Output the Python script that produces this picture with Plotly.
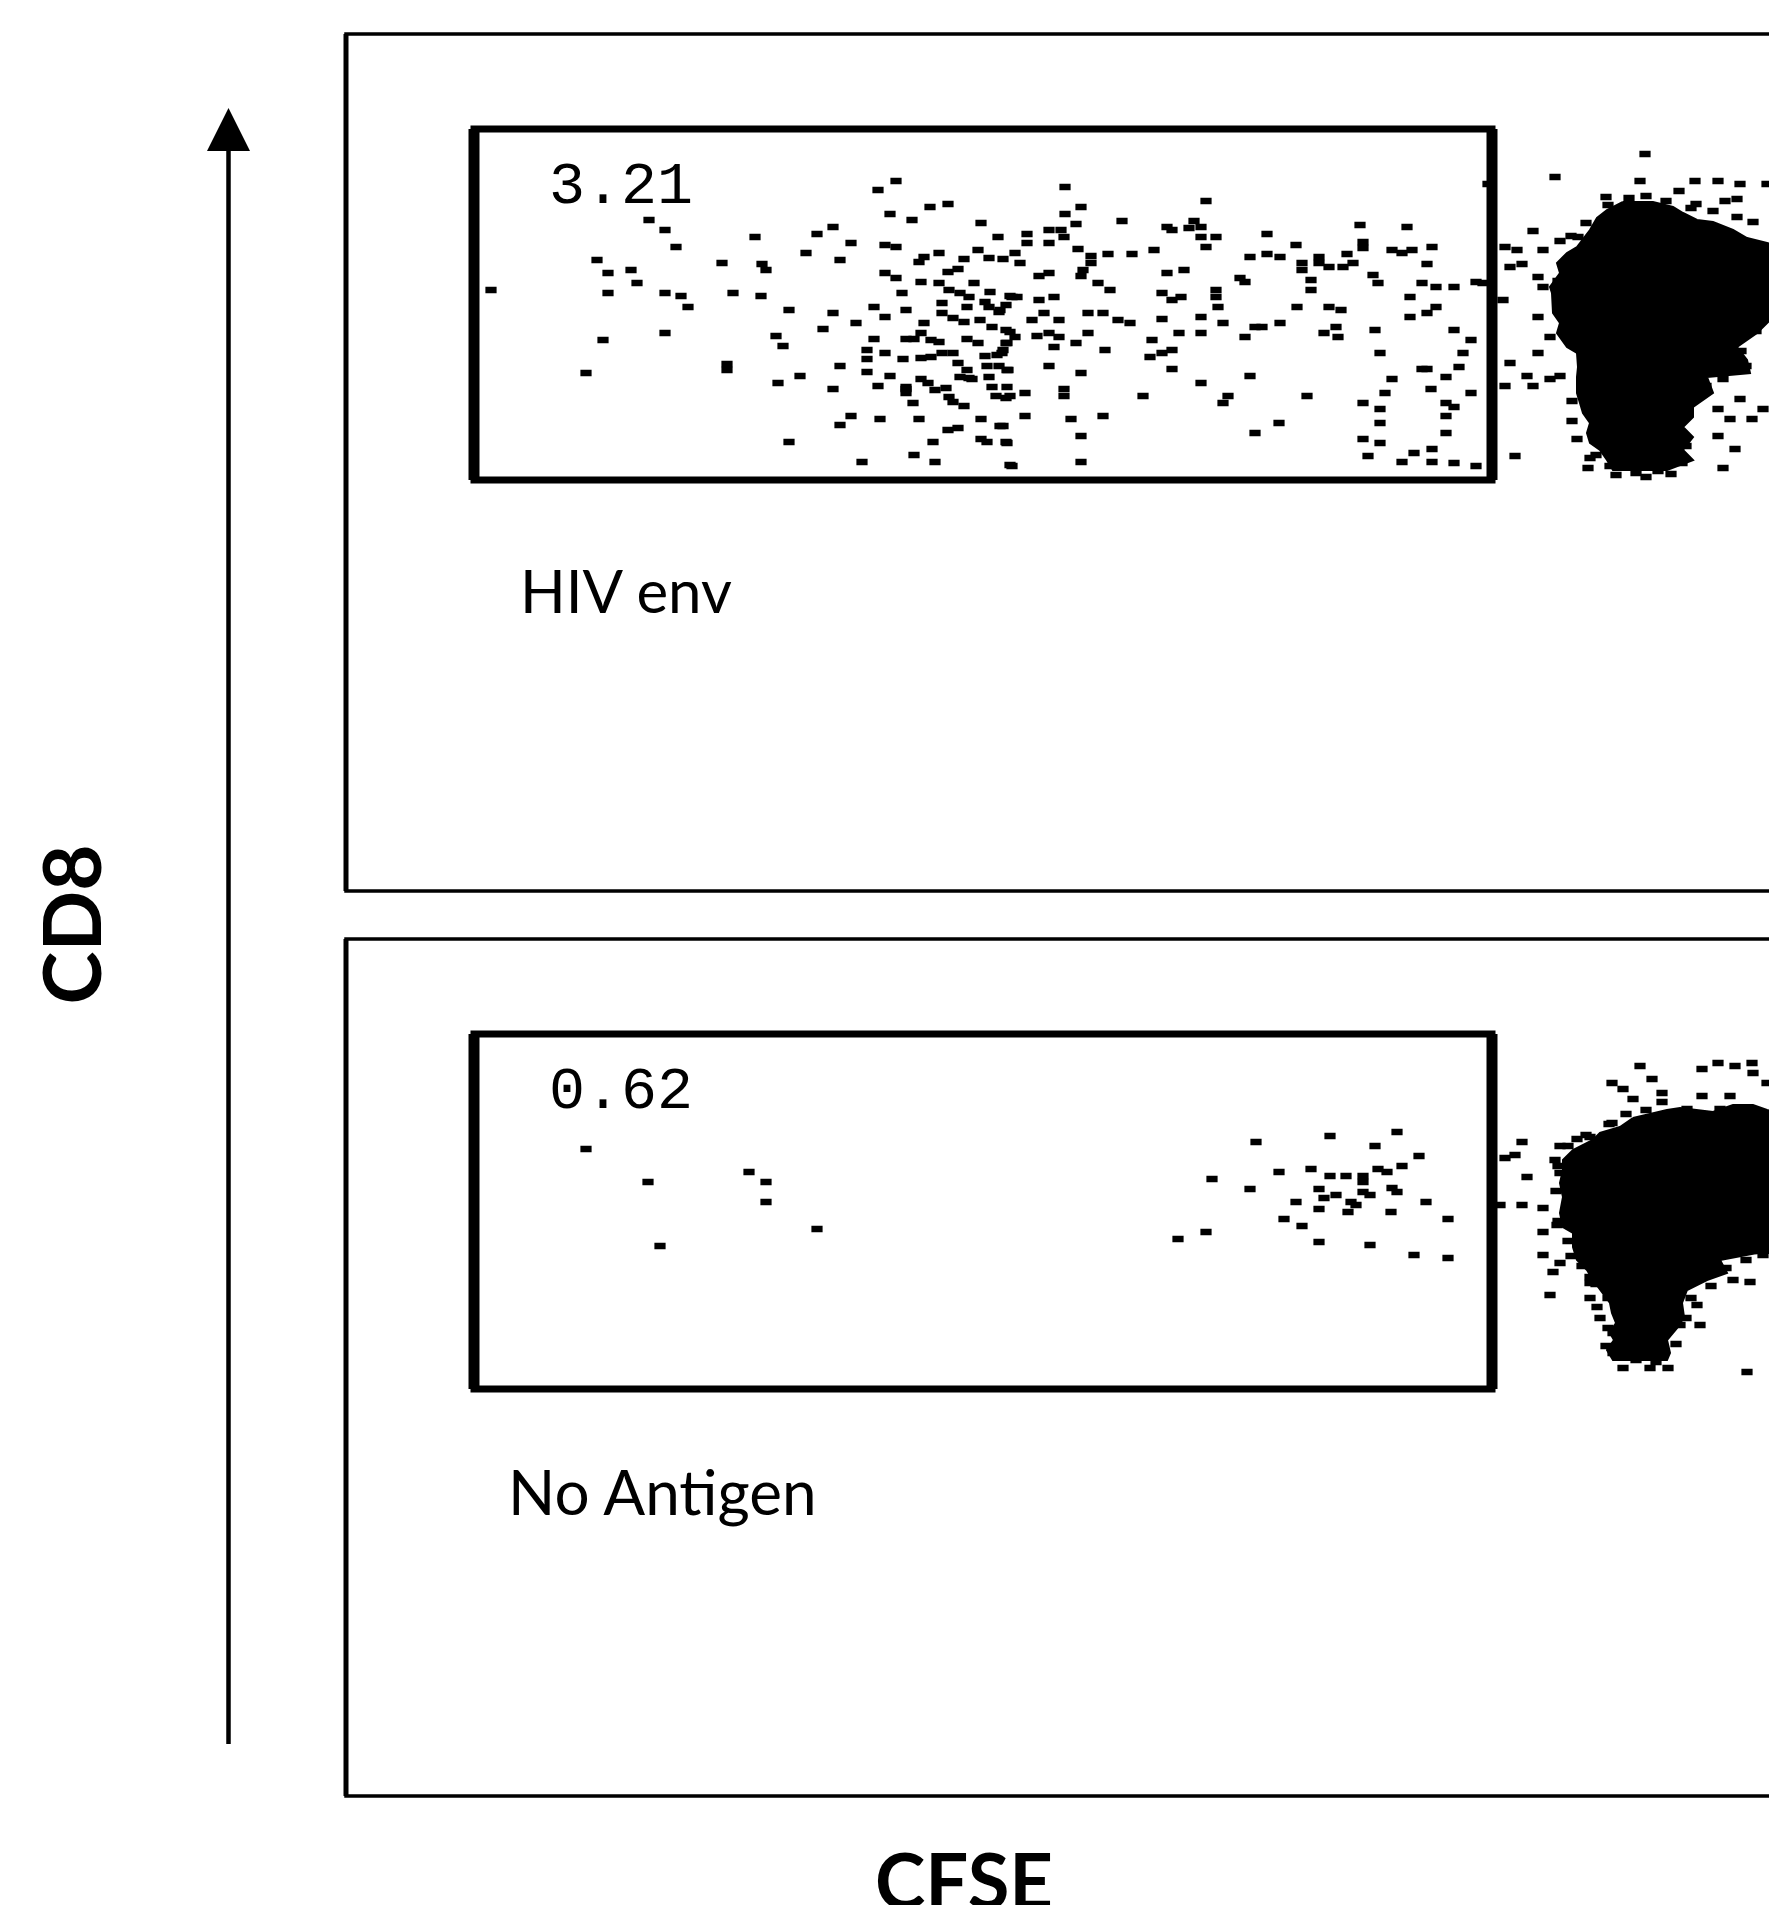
import plotly.graph_objects as go

W, H = 1769, 1905

# ---------------- data (arbitrary channel units; x = CFSE, y = CD8) ----------------
# Panel 1: HIV env
p1_x = [145, 251, 262, 285, 291, 262, 303, 319, 330, 319, 335, 342, 257, 319, 240, 376, 409, 416, 420, 387,
        415, 443, 430, 437, 381, 381, 432, 454, 443, 460, 471, 487, 505, 494, 487, 477, 510, 494, 487, 505,
        494, 516, 532, 550, 544, 566, 584, 602, 539, 550, 539, 550, 556, 528, 539, 560, 521, 521, 539, 528,
        521, 544, 532, 560, 534, 573, 567, 568, 589, 587, 602, 612, 635, 657, 635, 641, 660, 664, 635, 652,
        632, 643, 657, 618, 578, 593, 573, 602, 612, 575, 593, 603, 628, 614, 623, 644, 639, 664, 671, 596,
        596, 607, 618, 621, 643, 653, 660, 634, 646, 578, 575, 585, 593, 560, 568, 621, 632, 660, 660, 557,
        575, 585, 596, 607, 612, 621, 614, 626, 639, 651, 657, 641, 653, 643, 662, 575, 582, 589, 600, 560,
        560, 603, 607, 618, 646, 650, 660, 623,
        681, 681, 703, 703, 715, 718, 719, 735, 719, 730, 776, 821, 826, 843, 848, 855, 860, 855, 870, 860,
        921, 669, 674, 732, 745, 762, 745, 737, 786, 808, 693, 703, 735, 752, 764, 821, 838, 870, 870, 894,
        899, 904, 921, 934, 950, 956, 956, 973, 973, 983, 997, 1007, 1001, 1014, 1017, 1017, 965, 965, 1027, 1032,
        1046, 1056, 1066, 1086, 1061, 1081, 1076, 1090, 1108, 1130, 1137, 1142, 666, 693, 708, 654, 686, 698, 713, 742,
        757, 772, 784, 816, 826, 835, 816, 855, 872, 877, 909, 916, 934, 899, 951, 983, 995, 978, 992, 990,
        1029, 1064, 1064, 1081, 1090, 1108, 1125, 1117, 1113, 1076, 1081, 1046, 1100, 1085, 1125, 1034, 1039, 1017, 1034, 1034,
        1017, 1034, 1022, 1056, 1068, 1086, 1086, 1108, 1130, 1100, 1108, 1100, 1100, 664, 669, 661, 656, 691, 703, 713,
        708, 730, 742, 759, 806, 804, 816, 826, 833, 855, 661, 703, 735, 826, 855, 904, 661, 664, 679, 718,
        718, 797, 882, 877, 961, 654, 679, 725, 757, 661, 735, 909, 933, 666, 735,
        1209, 1294, 1349, 1372, 1394, 1421, 1333, 1260, 1350, 1379, 1391, 1367, 1391, 1407, 1187, 1232, 1214, 1159, 1171, 1197,
        1164, 1176, 1192, 1197, 1157, 1192, 1204, 1192, 1164, 1181, 1204, 1214, 1159, 1187, 1377, 1394, 1372, 1384, 1406, 1417,
        1372, 1389, 1377, 1169, 1242, 1244, 1299,
        1283, 1300, 1320, 1345, 1262, 1240, 1225, 1264, 1290, 1312, 1336, 1250, 1340, 1231, 1226, 1226, 1350, 1360,
        1395, 1400, 1410, 1218, 1212, 1222, 1356, 1270, 1300, 1325]
p1_y = [601, 631, 618, 621, 608, 598, 671, 661, 644, 598, 595, 584, 551, 558, 518, 628, 654, 627, 621, 598,
        595, 581, 555, 545, 527, 521, 508, 515, 449, 638, 657, 664, 648, 631, 578, 562, 568, 525, 502, 475,
        466, 429, 701, 710, 677, 671, 684, 687, 646, 644, 618, 613, 598, 584, 574, 581, 541, 532, 538, 552,
        519, 515, 505, 502, 472, 472, 488, 436, 429, 449, 461, 463, 472, 465, 452, 449, 449, 426, 668, 654,
        641, 633, 632, 632, 634, 638, 629, 619, 622, 609, 608, 601, 608, 598, 594, 599, 589, 595, 594, 588,
        578, 573, 569, 584, 584, 579, 586, 571, 564, 568, 558, 551, 549, 552, 552, 552, 548, 561, 548, 532,
        533, 534, 538, 538, 528, 521, 514, 512, 535, 536, 541, 525, 525, 514, 521, 512, 508, 501, 503, 504,
        498, 494, 489, 485, 504, 495, 493, 513,
        657, 648, 648, 661, 661, 654, 704, 684, 677, 667, 670, 664, 661, 663, 670, 664, 690, 654, 654, 644,
        657, 638, 628, 642, 635, 637, 628, 621, 637, 641, 615, 618, 615, 608, 601, 618, 621, 601, 594, 613,
        609, 634, 637, 634, 646, 628, 621, 634, 628, 624, 624, 628, 637, 666, 649, 643, 611, 601, 616, 608,
        641, 638, 641, 644, 664, 627, 608, 604, 604, 609, 608, 707, 594, 591, 594, 581, 571, 578, 571, 578,
        578, 571, 568, 598, 591, 594, 572, 574, 584, 568, 564, 564, 568, 554, 584, 584, 581, 558, 554, 564,
        561, 594, 574, 578, 584, 561, 551, 538, 524, 522, 522, 512, 514, 502, 498, 538, 498, 488, 482, 468,
        452, 448, 435, 429, 438, 442, 429, 428, 425, 488, 484, 475, 458, 559, 554, 548, 538, 555, 558, 554,
        544, 548, 558, 541, 551, 534, 538, 541, 558, 558, 521, 525, 518, 522, 508, 515, 504, 495, 498, 502,
        495, 495, 495, 488, 495, 465, 475, 472, 475, 448, 455, 458, 468, 425, 429,
        714, 710, 710, 710, 707, 707, 700, 694, 687, 690, 692, 680, 674, 669, 660, 654, 650, 644, 641, 641,
        624, 627, 614, 604, 591, 574, 554, 538, 528, 515, 512, 515, 505, 505, 512, 492, 482, 472, 472, 482,
        455, 442, 423, 435, 423, 433, 737,
        693, 695, 690, 683, 686, 668, 655, 425, 418, 420, 428, 436, 445, 452, 470, 490, 500, 505,
        540, 525, 560, 590, 610, 575, 520, 416, 414, 417]

# dense population of panel 1 (outline of the solid cloud)
b1_x = [1277, 1307, 1327, 1337, 1351, 1367, 1387, 1401, 1421, 1444, 1444, 1411, 1391, 1401, 1404, 1361, 1367, 1347, 1347, 1337,
        1347, 1337, 1347, 1321, 1277, 1267, 1261, 1254, 1244, 1241, 1244, 1237, 1234, 1231, 1231, 1232, 1231, 1221, 1211, 1214,
        1207, 1206, 1204, 1214, 1211, 1221, 1231, 1244, 1251, 1261]
b1_y = [689, 689, 684, 678, 671, 669, 661, 653, 648, 641, 591, 558, 544, 531, 518, 514, 498, 484, 474, 464,
        454, 441, 431, 421, 421, 421, 431, 441, 448, 458, 468, 478, 488, 498, 514, 524, 538, 544, 558, 568,
        578, 598, 604, 618, 628, 638, 644, 661, 673, 681]

# Panel 2: No Antigen
p2_x = [240, 302, 403, 420, 420, 471, 314,
        910, 984, 1051, 1029, 1073, 1056, 1032, 1041, 1017, 1017, 1000, 984, 965, 933, 866, 904, 973, 990,
        978, 1017, 1024, 1046, 1051, 1005, 1010, 1080, 950, 973, 1002, 1045, 938, 956, 1102, 860, 832, 973, 1024, 1068,
        1102,
        1294, 1306, 1266, 1277, 1287, 1316, 1316, 1356, 1372, 1389, 1406, 1407, 1421, 1356, 1384, 1341, 1374, 1266, 1231, 1244,
        1176, 1214, 1159, 1169, 1209, 1181, 1214, 1154, 1176, 1197, 1197, 1211, 1197, 1214, 1207, 1204, 1244, 1244, 1244, 1251,
        1254, 1267, 1351, 1354, 1334, 1387, 1404, 1417, 1277, 1304, 1322, 1401, 1267, 1274, 1314, 1294,
        1280, 1300, 1263, 1240, 1222, 1212, 1210, 1212, 1222, 1225, 1236, 1250, 1262, 1262, 1260, 1330, 1340, 1345,
        1365, 1380, 1400, 1415, 1290, 1310]
p2_y = [647, 614, 624, 614, 594, 567, 550,
        654, 660, 664, 650, 640, 630, 627, 624, 620, 614, 620, 620, 627, 624, 617, 607, 607, 601,
        598, 604, 601, 608, 604, 594, 591, 594, 594, 587, 584, 584, 577, 570, 577, 564, 557, 554, 551, 541,
        538,
        730, 717, 713, 707, 697, 703, 694, 727, 733, 730, 733, 723, 713, 700, 700, 687, 687, 673, 657, 659,
        654, 650, 638, 641, 636, 619, 623, 591, 591, 588, 564, 571, 541, 533, 524, 501, 513, 519, 498, 489,
        478, 463, 491, 471, 471, 516, 514, 541, 428, 428, 428, 424, 443, 441, 446, 451,
        682, 686, 672, 661, 650, 630, 605, 575, 555, 540, 530, 512, 498, 468, 450, 452, 478, 498,
        510, 528, 536, 545, 436, 434]

# dense population of panel 2
b2_x = [1287, 1301, 1321, 1334, 1367, 1387, 1407, 1421, 1444, 1444, 1411, 1374, 1381, 1361, 1341, 1336, 1338, 1332, 1321, 1324,
        1321, 1267, 1261, 1268, 1264, 1270, 1266, 1264, 1257, 1247, 1241, 1231, 1227, 1227, 1217, 1214, 1217, 1214, 1217, 1217,
        1227, 1247, 1254, 1274]
b2_y = [678, 681, 686, 688, 684, 691, 691, 686, 681, 543, 543, 536, 523, 516, 506, 493, 479, 469, 456, 443,
        436, 436, 446, 456, 463, 473, 483, 493, 503, 516, 526, 536, 549, 563, 569, 583, 599, 613, 626, 636,
        646, 656, 663, 669]

# gates (CFSE-low, CD8+) and their percentages
gate_x = [128, 1146]
gate1_y = [411, 762]
gate2_y = [407, 762]
gate_pct = ["3.21", "0.62"]
panel_names = ["HIV env", "No Antigen"]

# ---------------- figure ----------------
fig = go.Figure()

def px(x):
    return x / W

def py(y):
    return 1 - y / H

x_dom = [px(346), 1.0]
y_dom1 = [py(891), py(34)]
y_dom2 = [py(1796), py(939)]
XR = [0, 1423]
YR = [0, 857]

dash_marker = dict(symbol="line-ew", size=8, color="black", line=dict(color="black", width=6.5))

for k, (bx, by, ptx, pty) in enumerate([(b1_x, b1_y, p1_x, p1_y), (b2_x, b2_y, p2_x, p2_y)]):
    xa = "x" if k == 0 else "x2"
    ya = "y" if k == 0 else "y2"
    fig.add_trace(go.Scatter(x=bx + [bx[0]], y=by + [by[0]], mode="lines", fill="toself",
                             fillcolor="black", line=dict(color="black", width=2),
                             xaxis=xa, yaxis=ya, hoverinfo="skip"))
    fig.add_trace(go.Scatter(x=ptx, y=pty, mode="markers", marker=dash_marker,
                             xaxis=xa, yaxis=ya, hoverinfo="skip"))

ax_common = dict(visible=False, showgrid=False, zeroline=False, fixedrange=True)
fig.update_layout(
    width=W, height=H,
    margin=dict(l=0, r=0, t=0, b=0),
    paper_bgcolor="white", plot_bgcolor="white",
    showlegend=False,
    xaxis=dict(domain=x_dom, range=XR, anchor="y", **ax_common),
    yaxis=dict(domain=y_dom1, range=YR, anchor="x", **ax_common),
    xaxis2=dict(domain=x_dom, range=XR, anchor="y2", **ax_common),
    yaxis2=dict(domain=y_dom2, range=YR, anchor="x2", **ax_common),
)

shapes = []
# outer panel frames (they run past the right edge of the picture)
for top, bot in [(34, 891), (939, 1796)]:
    shapes.append(dict(type="rect", xref="paper", yref="paper", x0=px(346), x1=1.05,
                       y0=py(bot), y1=py(top), line=dict(color="black", width=3.5)))
    shapes.append(dict(type="line", xref="paper", yref="paper", x0=px(346), x1=px(346),
                       y0=py(bot), y1=py(top), line=dict(color="black", width=5)))
# gates
for k, gy in enumerate([gate1_y, gate2_y]):
    xa = "x" if k == 0 else "x2"
    ya = "y" if k == 0 else "y2"
    shapes.append(dict(type="rect", xref=xa, yref=ya, x0=gate_x[0], x1=gate_x[1], y0=gy[0], y1=gy[1],
                       line=dict(color="black", width=7)))
    for gx in gate_x:
        shapes.append(dict(type="line", xref=xa, yref=ya, x0=gx, x1=gx, y0=gy[0], y1=gy[1],
                           line=dict(color="black", width=11)))
# CD8 arrow
shapes.append(dict(type="line", xref="paper", yref="paper", x0=px(228.5), x1=px(228.5),
                   y0=py(1744), y1=py(148), line=dict(color="black", width=4.5)))
shapes.append(dict(type="path", xref="paper", yref="paper",
                   path=f"M {px(228.5)},{py(108)} L {px(207)},{py(151)} L {px(250)},{py(151)} Z",
                   fillcolor="black", line=dict(color="black", width=0)))
fig.update_layout(shapes=shapes)

ann = []
for k in range(2):
    xa = "x" if k == 0 else "x2"
    ya = "y" if k == 0 else "y2"
    ann.append(dict(text=gate_pct[k], xref=xa, yref=ya, x=201, y=704, xanchor="left", yanchor="middle",
                    showarrow=False, font=dict(family="Liberation Mono", size=60, color="black")))
    ann.append(dict(text=panel_names[k], xref=xa, yref=ya, x=172 if k == 0 else 160,
                    y=301 if k == 0 else 305, xanchor="left", yanchor="middle",
                    showarrow=False, font=dict(family="Lato", size=60 if k == 0 else 62, color="black")))
ann.append(dict(text="<b>CD8</b>", xref="paper", yref="paper", x=px(69.5), y=py(925), textangle=-90,
                xanchor="center", yanchor="middle", showarrow=False,
                font=dict(family="Lato", size=80, color="black")))
ann.append(dict(text="<b>CFSE</b>", xref="paper", yref="paper", x=px(964), y=py(1879),
                xanchor="center", yanchor="middle", showarrow=False,
                font=dict(family="Lato", size=76, color="black")))
fig.update_layout(annotations=ann)

fig.write_html("out.html", config={"displayModeBar": False, "staticPlot": True},
               post_script="document.body.style.margin='0px';document.body.style.overflow='hidden';")
